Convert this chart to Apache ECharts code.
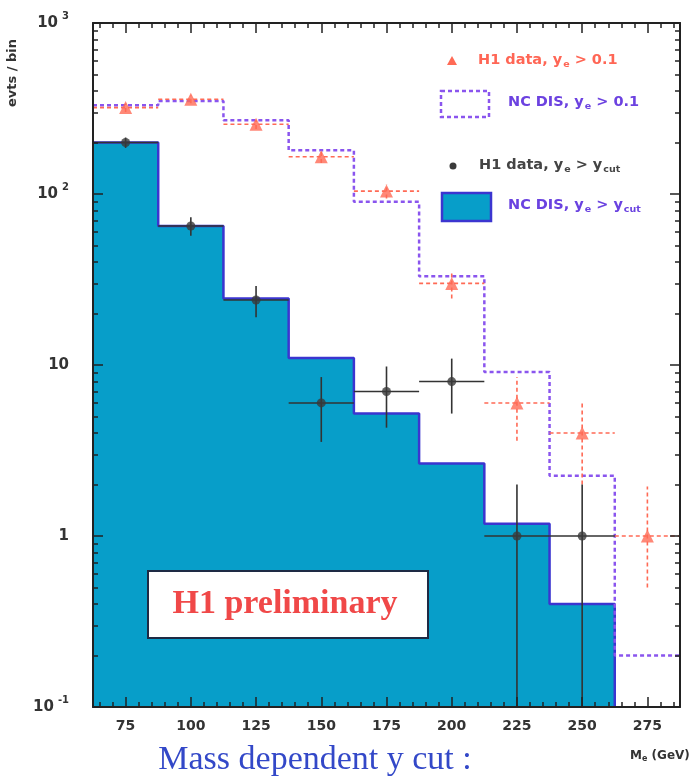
<!DOCTYPE html>
<html>
<head>
<meta charset="utf-8">
<script src="https://cdn.jsdelivr.net/npm/echarts@6/dist/echarts.min.js"></script>
<style>html,body{margin:0;padding:0;background:#fff;}#c{width:693px;height:776px;}</style>
</head>
<body>
<div id="c"></div>
<script>
// ---- data ----
const binCenters = [75, 100, 125, 150, 175, 200, 225, 250, 275];
const binWidth = 25;
const xTickLabels = [75, 100, 125, 150, 175, 200, 225, 250, 275];
const yTickLabels = [0.1, 1, 10, 100, 1000];
// NC DIS, y_e > y_cut (blue filled histogram), bins 75..250
const ncdisCut = [200, 65, 24.5, 11, 5.2, 2.65, 1.18, 0.4];
// NC DIS, y_e > 0.1 (purple dashed histogram), bins 75..275
const ncdis01 = [330, 350, 270, 180, 90, 33, 9.1, 2.25, 0.2];
// H1 data, y_e > 0.1 (red triangles): value, low, high
const h1data01 = [320, 358, 256, 165, 104, 30, 6, 4, 1];
const h1data01Low = [302, 339, 240, 152, 94, 24.5, 3.6, 2, 0.5];
const h1data01High = [338, 377, 272, 178, 114, 35.5, 8.5, 6.2, 1.95];
// H1 data, y_e > y_cut (black points), bins 75..250
const h1dataCut = [200, 65, 24, 6, 7, 8, 1, 1];
const h1dataCutLow = [186, 57, 19, 3.55, 4.3, 5.2, 0, 0];
const h1dataCutHigh = [214, 73, 29, 8.5, 9.8, 10.9, 2, 2];

const xMin = 62.5, xMax = 287.5, yMin = 0.1, yMax = 1000;
const xMinor = [];
for (let v = 65; v < xMax; v += 5) if (v % 25 !== 0) xMinor.push(v);
const yMinor = [];
[0.1, 1, 10, 100].forEach(d => { for (let k = 2; k <= 9; k++) yMinor.push(+(d * k).toPrecision(3)); });

function stepPoints(vals) {
  const pts = [];
  vals.forEach((v, i) => {
    const a = binCenters[i] - binWidth / 2;
    pts.push([a, v], [a + binWidth, v]);
  });
  return pts;
}
const bluePts = stepPoints(ncdisCut);
bluePts.push([bluePts[bluePts.length - 1][0], yMin]);
const purplePts = stepPoints(ncdis01);

function errData(vals, lo, hi) {
  return vals.map((v, i) => [binCenters[i], v, lo[i], hi[i]]);
}

function errRender(color, dashed) {
  return function (params, api) {
    const x = api.value(0), y = api.value(1);
    const lo = Math.max(api.value(2), yMin), hi = api.value(3);
    const pL = api.coord([x, lo]);
    const pH = api.coord([x, hi]);
    const pA = api.coord([Math.max(x - binWidth / 2, xMin), y]);
    const pB = api.coord([Math.min(x + binWidth / 2, xMax), y]);
    const style = { stroke: color, lineWidth: 1.6, lineDash: dashed ? [4, 3] : null };
    return {
      type: 'group',
      children: [
        { type: 'line', shape: { x1: pL[0], y1: pL[1], x2: pH[0], y2: pH[1] }, style: style },
        { type: 'line', shape: { x1: pA[0], y1: pA[1], x2: pB[0], y2: pB[1] }, style: style }
      ]
    };
  };
}

const FONT = 'DejaVu Sans';
const axisColor = '#222';
function xAx(pos, major) {
  return {
    type: 'value', min: xMin, max: xMax, position: pos, z: 20,
    axisLine: { show: major, lineStyle: { color: axisColor, width: 2 } },
    axisTick: { show: true, inside: true, length: major ? 10 : 5, customValues: major ? xTickLabels : xMinor, lineStyle: { color: axisColor, width: 1.5 } },
    axisLabel: major && pos === 'bottom' ? { show: true, customValues: xTickLabels, fontSize: 14, margin: 12, fontFamily: FONT, fontWeight: 'bold', color: '#333' } : { show: false },
    splitLine: { show: false }
  };
}
function yAx(pos, major) {
  return {
    type: 'log', logBase: 10, min: yMin, max: yMax, position: pos, z: 20,
    axisLine: { show: major, lineStyle: { color: axisColor, width: 2 } },
    axisTick: { show: true, inside: true, length: major ? 10 : 5, customValues: major ? yTickLabels : yMinor, lineStyle: { color: axisColor, width: 1.5 } },
    axisLabel: major && pos === 'left' ? {
      show: true, margin: 24,
      formatter: function (v) {
        const e = Math.round(Math.log10(v));
        if (e === 0) return '{b|1}';
        if (e === 1) return '{b|10}';
        return '{b|10}{p|' + (e < 0 ? '-' : '') + Math.abs(e) + '}';
      },
      rich: {
        b: { fontFamily: FONT, fontWeight: 'bold', fontSize: 15, color: '#333' },
        p: { fontFamily: FONT, fontWeight: 'bold', fontSize: 10, color: '#333', padding: [0, 0, 14, 4] }
      }
    } : { show: false },
    splitLine: { show: false }
  };
}

function legText(x, y, main, color, sub, tail, tailSub) {
  let t = '{a|' + main + '}{s|' + sub + '}{a|' + tail + '}';
  if (tailSub) t += '{s|' + tailSub + '}';
  return {
    type: 'text', x: x, y: y - 11, z: 100,
    style: {
      text: t,
      rich: {
        a: { fontFamily: FONT, fontWeight: 'bold', fontSize: 14.5, fill: color },
        s: { fontFamily: FONT, fontWeight: 'bold', fontSize: 9.5, fill: color, padding: [9, 0, 0, 1] }
      }
    }
  };
}

const chart = echarts.init(document.getElementById('c'), null, { renderer: 'canvas' });
chart.setOption({
  animation: false,
  backgroundColor: '#fff',
  grid: { left: 93, right: 13, top: 23, bottom: 69, containLabel: false },
  xAxis: [xAx('bottom', true), xAx('bottom', false), xAx('top', true), xAx('top', false)],
  yAxis: [yAx('left', true), yAx('left', false), yAx('right', true), yAx('right', false)],
  series: [
    {
      type: 'line', name: 'NC DIS cut', data: bluePts, showSymbol: false, z: 1,
      lineStyle: { color: '#3b35d0', width: 2.5 },
      areaStyle: { color: '#079ec9', opacity: 1, origin: 'start' }
    },
    {
      type: 'line', name: 'NC DIS 0.1', data: purplePts, showSymbol: false, z: 3,
      lineStyle: { color: '#8a55ee', width: 2.5, type: [4, 3] }
    },
    {
      type: 'custom', name: 'H1 0.1 err', data: errData(h1data01, h1data01Low, h1data01High), z: 4,
      renderItem: errRender('#ff6a55', true)
    },
    {
      type: 'scatter', name: 'H1 0.1', data: h1data01.map((v, i) => [binCenters[i], v]), z: 5,
      symbol: 'triangle', symbolSize: 13, itemStyle: { color: '#ff6a55' }
    },
    {
      type: 'custom', name: 'H1 cut err', data: errData(h1dataCut, h1dataCutLow, h1dataCutHigh), z: 6,
      renderItem: errRender('#333', false)
    },
    {
      type: 'scatter', name: 'H1 cut', data: h1dataCut.map((v, i) => [binCenters[i], v]), z: 7,
      symbol: 'circle', symbolSize: 9, itemStyle: { color: '#3a3a3a' }
    }
  ],
  graphic: [
    { type: 'text', z: 100, rotation: Math.PI / 2, x: 6, y: 107,
      style: { text: 'evts / bin', fontFamily: FONT, fontWeight: 'bold', fontSize: 13, fill: '#333' } },
    { type: 'polygon', z: 100, shape: { points: [[452, 56], [457, 65], [447, 65]] }, style: { fill: '#ff6a55' } },
    legText(478, 62, 'H1 data, y', '#ff6655', 'e', ' > 0.1'),
    { type: 'rect', z: 100, shape: { x: 441, y: 91, width: 48, height: 26 }, style: { fill: '#fff', stroke: '#8a55ee', lineWidth: 2.5, lineDash: [4, 3] } },
    legText(508, 104, 'NC DIS, y', '#6c42e0', 'e', ' > 0.1'),
    { type: 'circle', z: 100, shape: { cx: 453, cy: 166, r: 3.5 }, style: { fill: '#3a3a3a' } },
    legText(479, 167, 'H1 data, y', '#444', 'e', ' > y', 'cut'),
    { type: 'rect', z: 100, shape: { x: 442, y: 193, width: 49, height: 28 }, style: { fill: '#079ec9', stroke: '#3b35d0', lineWidth: 2.5 } },
    legText(508, 207, 'NC DIS, y', '#6a42e0', 'e', ' > y', 'cut'),
    { type: 'rect', z: 100, shape: { x: 148, y: 571, width: 280, height: 67 }, style: { fill: '#fff', stroke: '#1e2a44', lineWidth: 2 } },
    { type: 'text', z: 101, x: 285, y: 604, style: { text: 'H1 preliminary', fontFamily: 'Liberation Serif', fontWeight: 'bold', fontSize: 34, fill: '#f04848', align: 'center', verticalAlign: 'middle' } },
    { type: 'text', z: 100, x: 315, y: 760, style: { text: 'Mass dependent y cut :', fontFamily: 'Liberation Serif', fontSize: 34, fill: '#3348c8', align: 'center', verticalAlign: 'middle' } },
    { type: 'text', z: 100, x: 630, y: 749, style: { text: '{a|M}{s|e}{a| (GeV)}', rich: {
        a: { fontFamily: FONT, fontWeight: 'bold', fontSize: 12, fill: '#333' },
        s: { fontFamily: FONT, fontWeight: 'bold', fontSize: 8, fill: '#333', padding: [6, 0, 0, 0] } } } }
  ]
});
</script>
</body>
</html>
